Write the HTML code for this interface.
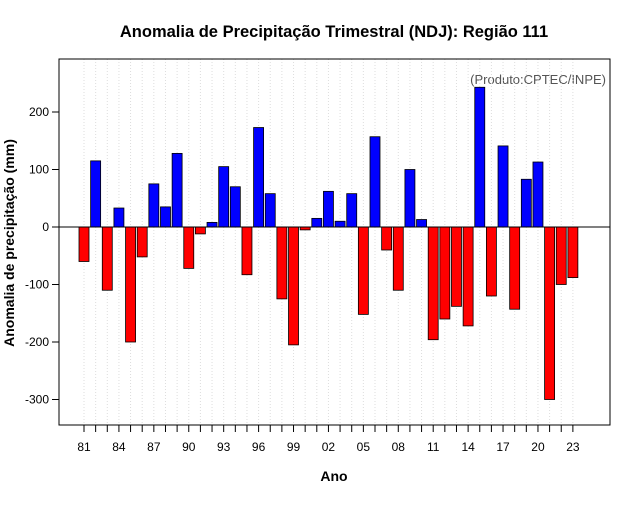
<!DOCTYPE html>
<html><head><meta charset="utf-8"><style>
body{margin:0;background:#fff;font-family:"Liberation Sans",sans-serif}
</style></head><body>
<svg id="c" width="640" height="500" xmlns="http://www.w3.org/2000/svg">
<text x="334" y="37" text-anchor="middle" font-size="16.5" font-weight="bold">Anomalia de Precipitação Trimestral (NDJ): Região 111</text>
<text x="606" y="84" text-anchor="end" font-size="13" fill="#555">(Produto:CPTEC/INPE)</text>
<text x="334" y="481" text-anchor="middle" font-size="14" font-weight="bold">Ano</text>
<text transform="translate(14,243) rotate(-90)" text-anchor="middle" font-size="14" font-weight="bold">Anomalia de precipitação (mm)</text>
<g id="grid"></g><g id="bars"></g><g id="axes"></g>
</svg>
<script>
const years=[81,82,83,84,85,86,87,88,89,90,91,92,93,94,95,96,97,98,99,0,1,2,3,4,5,6,7,8,9,10,11,12,13,14,15,16,17,18,19,20,21,22,23];
const values=[-60,115,-110,33,-200,-52,75,35,128,-72,-12,8,105,70,-83,173,58,-125,-205,-5,15,62,10,58,-152,157,-40,-110,100,13,-196,-160,-138,-172,243,-120,141,-143,83,113,-300,-100,-88];
const yTicks=[-300,-200,-100,0,100,200];
const NS="http://www.w3.org/2000/svg";
const L=59,R=610,T=59,B=425;
const x=i=>84+i*11.64;
const y=v=>227-v*0.575;
function mk(t,a,p){const e=document.createElementNS(NS,t);for(const k in a)e.setAttribute(k,a[k]);p.appendChild(e);return e;}
const g=document.getElementById('grid'),b=document.getElementById('bars'),ax=document.getElementById('axes');
years.forEach((yr,i)=>{
 const gl=mk('line',{x1:x(i),x2:x(i),y1:T,y2:B,stroke:'#ddd','stroke-dasharray':'1,2','stroke-width':1},g);
 
 
 const v=values[i];
 const r=mk('rect',{x:x(i)-5,width:10,y:Math.min(y(v),y(0)),height:Math.abs(y(v)-y(0)),fill:v>=0?'#0000ff':'#ff0000',stroke:'#000','stroke-width':0.8},b);
 
 
 const tk=mk('line',{x1:x(i),x2:x(i),y1:B,y2:B+7,stroke:'#000'},ax);
 
 
 if(i%3===0){const t=mk('text',{x:x(i),y:451,'text-anchor':'middle','font-size':12},ax);t.textContent=String(yr).padStart(2,'0');
 
 }
});
const zl=mk('line',{x1:L,x2:R,y1:y(0),y2:y(0),stroke:'#000'},ax);


const fr=mk('rect',{x:L,y:T,width:R-L,height:B-T,fill:'none',stroke:'#000'},ax);


yTicks.forEach(v=>{
 const tk=mk('line',{x1:L-7,x2:L,y1:y(v),y2:y(v),stroke:'#000'},ax);
 
 
 const t=mk('text',{x:L-10,y:y(v)+4,'text-anchor':'end','font-size':12},ax);t.textContent=v;
 
 
});
</script>
</body></html>
